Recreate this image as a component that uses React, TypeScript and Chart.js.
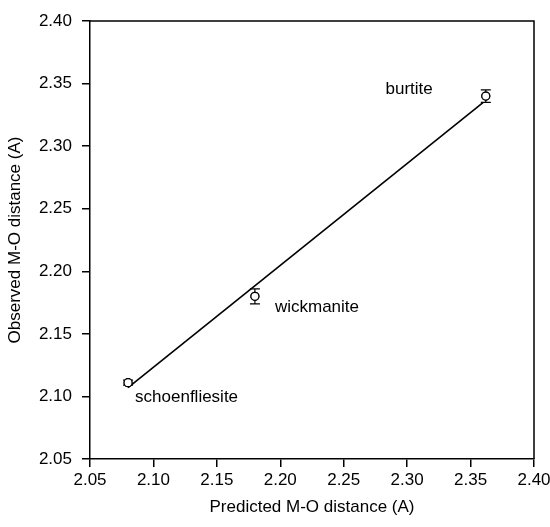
import React, { useEffect, useRef } from "react";
import { Chart, registerables } from "chart.js";

Chart.register(...registerables);

const minerals = ["schoenfliesite", "wickmanite", "burtite"];
const predicted = [2.08, 2.18, 2.362];
const observed = [2.111, 2.18, 2.34];
const observedErr = [0.002, 0.006, 0.005];
const fitX = [2.08, 2.36];
const fitY = [2.107, 2.335];
const xTickValues = [2.05, 2.1, 2.15, 2.2, 2.25, 2.3, 2.35, 2.4];
const yTickValues = [2.05, 2.1, 2.15, 2.2, 2.25, 2.3, 2.35, 2.4];
const xTitle = "Predicted M-O distance (A)";
const yTitle = "Observed M-O distance (A)";

const FONT = "'Liberation Sans', Arial, Helvetica, sans-serif";

// label placement relative to the point (pixels), and alignment
const labelPlacement = [
  { dx: 7, dy: 15, align: "left" },
  { dx: 20, dy: 11, align: "left" },
  { dx: -53, dy: -7, align: "right" },
];

const framePlugin = {
  id: "frame",
  afterDatasetsDraw(chart: any) {
    const { ctx, chartArea } = chart;
    ctx.save();
    ctx.strokeStyle = "#000";
    ctx.lineWidth = 1.5;
    ctx.beginPath();
    ctx.moveTo(chartArea.left, chartArea.top);
    ctx.lineTo(chartArea.right, chartArea.top);
    ctx.lineTo(chartArea.right, chartArea.bottom);
    ctx.stroke();
    ctx.restore();
  },
};

const errorBarPlugin = {
  id: "errorBars",
  afterDatasetsDraw(chart: any) {
    const { ctx } = chart;
    const xs = chart.scales.x;
    const ys = chart.scales.y;
    ctx.save();
    ctx.strokeStyle = "#000";
    ctx.lineWidth = 1.2;
    for (let i = 0; i < predicted.length; i++) {
      const px = xs.getPixelForValue(predicted[i]);
      const yTop = ys.getPixelForValue(observed[i] + observedErr[i]);
      const yBot = ys.getPixelForValue(observed[i] - observedErr[i]);
      const cap = 5;
      ctx.beginPath();
      ctx.moveTo(px, yTop);
      ctx.lineTo(px, yBot);
      ctx.moveTo(px - cap, yTop);
      ctx.lineTo(px + cap, yTop);
      ctx.moveTo(px - cap, yBot);
      ctx.lineTo(px + cap, yBot);
      ctx.stroke();
    }
    for (let i = 0; i < predicted.length; i++) {
      const px = xs.getPixelForValue(predicted[i]);
      const py = ys.getPixelForValue(observed[i]);
      ctx.beginPath();
      ctx.arc(px, py, 4, 0, Math.PI * 2);
      ctx.fillStyle = "#fff";
      ctx.fill();
      ctx.stroke();
    }
    ctx.fillStyle = "#000";
    ctx.font = `17px ${FONT}`;
    ctx.textBaseline = "middle";
    for (let i = 0; i < minerals.length; i++) {
      const px = xs.getPixelForValue(predicted[i]);
      const py = ys.getPixelForValue(observed[i]);
      const p = labelPlacement[i];
      ctx.textAlign = p.align;
      ctx.fillText(minerals[i], px + p.dx, py + p.dy);
    }
    ctx.restore();
  },
};

export default function App() {
  const ref = useRef<HTMLCanvasElement | null>(null);
  useEffect(() => {
    if (!ref.current) return;
    const chart = new Chart(ref.current, {
      type: "scatter",
      data: {
        datasets: [
          {
            type: "line",
            data: fitX.map((x, i) => ({ x, y: fitY[i] })),
            borderColor: "#000",
            borderWidth: 1.6,
            pointRadius: 0,
            fill: false,
          } as any,
          {
            data: predicted.map((x, i) => ({ x, y: observed[i] })),
            pointRadius: 4,
            pointBackgroundColor: "#fff",
            pointBorderColor: "#000",
            pointBorderWidth: 1.2,
          },
        ],
      },
      options: {
        responsive: false,
        animation: false,
        layout: { padding: { top: 21, right: 16, left: 5, bottom: 9 } },
        plugins: { legend: { display: false }, tooltip: { enabled: false } },
        scales: {
          x: {
            type: "linear",
            min: 2.05,
            max: 2.4,
            afterBuildTicks: (s: any) => {
              s.ticks = xTickValues.map((v) => ({ value: v }));
            },
            afterFit: (s: any) => {
              s.height = 59;
              s.paddingRight = 0;
              s.paddingLeft = 0;
            },
            grid: {
              drawOnChartArea: false,
              drawTicks: true,
              tickLength: 8,
              color: "#000",
              lineWidth: 1.5,
            },
            border: { display: true, color: "#000", width: 1.5 },
            ticks: {
              color: "#000",
              font: { family: FONT, size: 17 },
              padding: 3,
              maxRotation: 0,
              callback: (v: any) => Number(v).toFixed(2),
            },
            title: {
              display: true,
              text: xTitle,
              color: "#000",
              font: { family: FONT, size: 17 },
              padding: { top: 0, bottom: 0 },
            },
          },
          y: {
            type: "linear",
            min: 2.05,
            max: 2.4,
            afterBuildTicks: (s: any) => {
              s.ticks = yTickValues.map((v) => ({ value: v }));
            },
            afterFit: (s: any) => {
              s.width = 85;
              s.paddingTop = 0;
              s.paddingBottom = 0;
            },
            grid: {
              drawOnChartArea: false,
              drawTicks: true,
              tickLength: 8,
              color: "#000",
              lineWidth: 1.5,
            },
            border: { display: true, color: "#000", width: 1.5 },
            ticks: {
              color: "#000",
              font: { family: FONT, size: 17 },
              padding: 10,
              callback: (v: any) => Number(v).toFixed(2),
            },
            title: {
              display: true,
              text: yTitle,
              color: "#000",
              font: { family: FONT, size: 17 },
              padding: { top: 0, bottom: 0 },
            },
          },
        },
      },
      plugins: [framePlugin, errorBarPlugin],
    });
    return () => chart.destroy();
  }, []);
  return (
    <div style={{ position: "absolute", left: 0, top: 0, width: 550, height: 527, background: "#fff" }}>
      <canvas ref={ref} width={550} height={527} style={{ display: "block" }} />
    </div>
  );
}
